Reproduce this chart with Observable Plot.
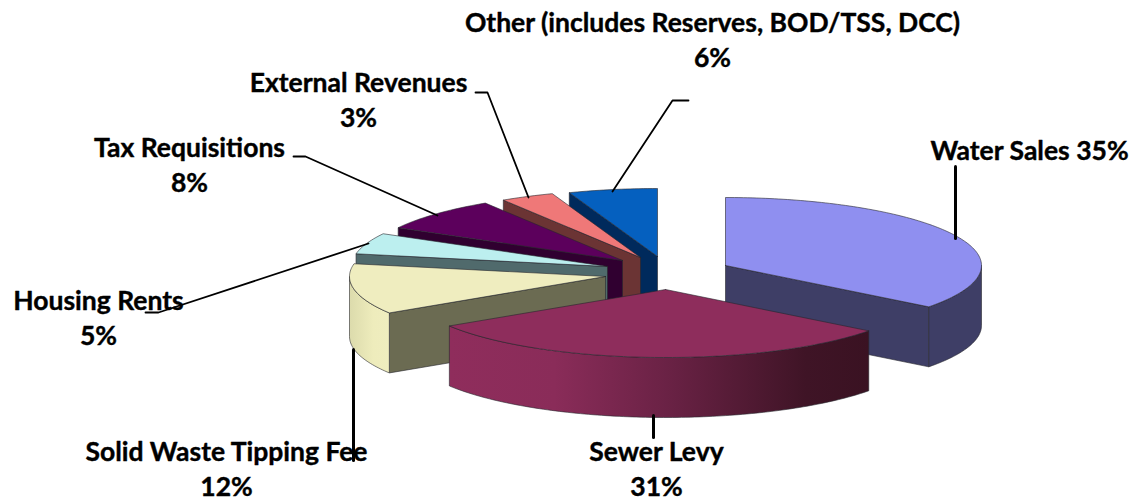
<!DOCTYPE html>
<html>
<head>
<meta charset="utf-8">
<style>html,body{margin:0;padding:0;background:#fff}svg{display:block}</style>
<script src="https://cdn.jsdelivr.net/npm/d3@7"></script>
<script src="https://cdn.jsdelivr.net/npm/@observablehq/plot@0.6"></script>
</head>
<body>
<div id="chart"></div>
<script>
// Data: slice names and shares (labels are the rounded share)
const categories = ["Water Sales","Sewer Levy","Solid Waste Tipping Fee","Housing Rents","Tax Requisitions","External Revenues","Other (includes Reserves, BOD/TSS, DCC)"];
const shares = [35.4,30.6,12,5,8,3.4,5.6];
// Styles
const topColors = ["#8f8ff0","#8e2d5c","#efedbf","#bcefef","#5c005c","#ef7878","#0560bf"];
const faceColors = ["#3e3e66","#3a1222","#6b6b52","#506a6c","#300030","#6b3434","#002a5c"];
const wallFills = ["#3e3e66","url(#sewerWall)","url(#wasteWall)","#506a6c","#300030","#6b3434","#002a5c"];
// Layout of the exploded 3D pie
const apexX = [725,665,605,607,622,640,657];
const apexY = [265,289,276,266,260,257,256];
const rx = 256, ry = 68, depth = 60;
// Label layout
const labelX = [1029,656,226,98,189,358,712];
const labelY = [151,470,470,319,166,101,41];
const oneLine = [true,false,false,false,false,false,false];
const leaderX = [[955,955],[653,653],[353,353],[145,158,368],[293,305,437],[475,487,528],[688,672,612]];
const leaderY = [[166,238],[415,437],[349,460],[312,312,243],[156,156,215],[92,92,197],[100,100,191]];
const leaderW = [3,3,3,1.8,1.8,1.8,1.8];

const total = d3.sum(shares);
let running = 0;
const slices = shares.map((s, i) => {
  const a0 = running / total * 360;
  running += s;
  return {i, a0, a1: running / total * 360};
});
const rad = Math.PI / 180;
const pt = (i, a, dz = 0) => ({
  x: apexX[i] + rx * Math.sin(a * rad),
  y: apexY[i] - ry * Math.cos(a * rad) + dz
});
const arc = (i, a0, a1, dz = 0) => d3.range(a0, a1, 1).concat(a1).map(a => pt(i, a, dz));
const apex = (i, dz = 0) => ({x: apexX[i], y: apexY[i] + dz});
const closed = p => p.concat([p[0]]);

const edge = {stroke: "#26262e", strokeWidth: 0.8, strokeOpacity: 0.75};
const poly = (p, fill) => Plot.line(closed(p), {x: "x", y: "y", fill, ...edge});

function sliceMarks({i, a0, a1}) {
  const marks = [];
  const face = a => poly([apex(i), pt(i, a), pt(i, a, depth), apex(i, depth)], faceColors[i]);
  if (a0 > 180) marks.push(face(a0));
  if (a1 < 180) marks.push(face(a1));
  const w0 = Math.max(a0, 90), w1 = Math.min(a1, 270);
  if (w0 < w1) marks.push(poly(arc(i, w0, w1).concat(arc(i, w0, w1, depth).reverse()), wallFills[i]));
  marks.push(poly([apex(i), ...arc(i, a0, a1)], topColors[i]));
  return marks;
}
// Painter's order: far slices first, front slices last
const order = [6,5,4,3,2,0,1];

const gradient = (sel, id, stops) => {
  const g = sel.append("linearGradient").attr("id", id);
  stops.forEach(([o, c]) => g.append("stop").attr("offset", o).attr("stop-color", c));
};
const defs = () => {
  const d = d3.create("svg:defs");
  gradient(d, "sewerWall", [[0,"#8f2d5c"],[0.25,"#8a2c59"],[0.52,"#6a2245"],[0.85,"#3f1426"],[1,"#3a1222"]]);
  gradient(d, "wasteWall", [[0,"#dcdbac"],[0.6,"#eeecbc"],[1,"#efedbf"]]);
  return d.node();
};

const labels = categories.map((name, i) => ({
  text: oneLine[i] ? `${name} ${Math.round(shares[i])}%` : `${name}\n${Math.round(shares[i])}%`,
  x: labelX[i], y: labelY[i] - 3
}));
const leaders = categories.map((_, i) => leaderX[i].map((x, k) => ({x, y: leaderY[i][k]})));

const chart = Plot.plot({
  width: 1135, height: 504,
  margin: 0,
  x: {domain: [0,1135], range: [0,1135], axis: null},
  y: {domain: [0,504], range: [0,504], axis: null},
  style: {background: "#fff"},
  marks: [
    defs,
    ...order.flatMap(i => sliceMarks(slices[i])),
    ...leaders.map((p, i) => i === 2 ? null : Plot.line(p, {x: "x", y: "y", stroke: "#000", strokeWidth: leaderW[i]})),
    Plot.text(labels, {x: "x", y: "y", text: "text", fontFamily: "Lato", fontWeight: 700, fontSize: 26.5, lineHeight: 1.3, fill: "#000", stroke: "#000", strokeWidth: 0.4}),
    Plot.line(leaders[2], {x: "x", y: "y", stroke: "#000", strokeWidth: leaderW[2]})
  ]
});
document.getElementById("chart").appendChild(chart);
</script>
</body>
</html>
